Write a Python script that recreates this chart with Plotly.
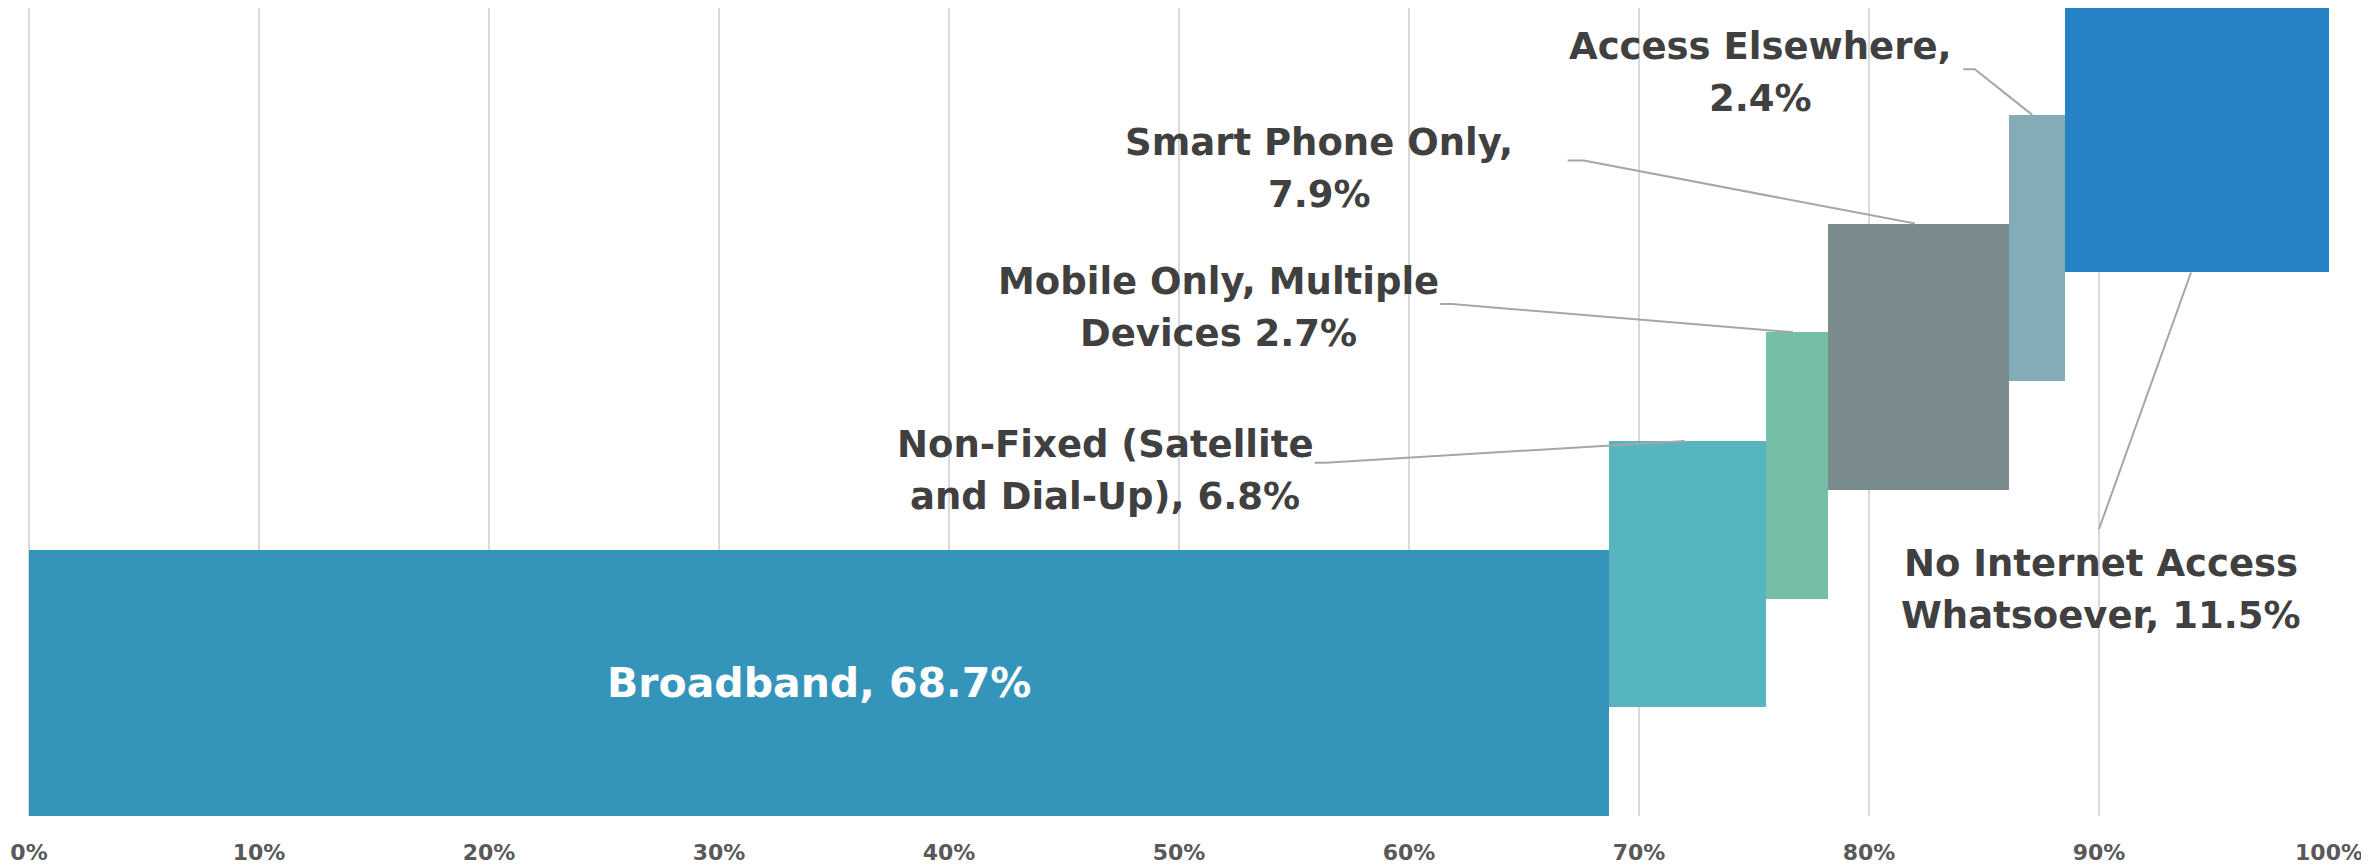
import plotly.graph_objects as go
import numpy as np

# ---- data ----
categories = ["Broadband", "Non-Fixed (Satellite and Dial-Up)", "Mobile Only, Multiple Devices",
              "Smart Phone Only", "Access Elsewhere", "No Internet Access Whatsoever"]
values = [68.7, 6.8, 2.7, 7.9, 2.4, 11.5]
levels = [0, 1, 2, 3, 4, 5]
label_lines = [
    ["Broadband, 68.7%"],
    ["Non-Fixed (Satellite", "and Dial-Up), 6.8%"],
    ["Mobile Only, Multiple", "Devices 2.7%"],
    ["Smart Phone Only,", "7.9%"],
    ["Access Elsewhere,", "2.4%"],
    ["No Internet Access", "Whatsoever, 11.5%"],
]
tick_vals = [0, 10, 20, 30, 40, 50, 60, 70, 80, 90, 100]
tick_text = ["0%", "10%", "20%", "30%", "40%", "50%", "60%", "70%", "80%", "90%", "100%"]

# ---- styling ----
colors = ["#3594BA", "#57B5C0", "#75BEA6", "#7A8B8D", "#84ACB6", "#2683C6"]
BAR_H = 2.45
starts = np.concatenate([[0], np.cumsum(values)[:-1]])
centers = [l + BAR_H / 2 for l in levels]

fig = go.Figure()
fig.add_trace(go.Bar(
    orientation="h", y=centers, x=values, base=starts, width=BAR_H,
    marker=dict(color=colors, line=dict(width=0)),
    hoverinfo="skip", showlegend=False,
))

# label placements (data coords of the label block centre)
label_pos = [(None, None), (46.8, 3.18), (51.7, 4.68), (56.1, 5.96), (75.3, 6.84), (90.1, 2.08)]
# leader line paths
leaders = [
    None,
    [(55.9, 3.25), (56.35, 3.25), (72.0, 3.45)],
    [(61.35, 4.71), (61.87, 4.71), (76.7, 4.45)],
    [(66.9, 6.03), (67.6, 6.03), (82.0, 5.45)],
    [(84.1, 6.87), (84.6, 6.87), (87.1, 6.45)],
    [(90.0, 2.64), (94.0, 5.0)],
]

FONT = "DejaVu Sans"
TXT = "#404040"
LINE_GAP = 52  # px between lines

annotations = []
for i, lines in enumerate(label_lines):
    if i == 0:
        annotations.append(dict(x=starts[0] + values[0] / 2, y=centers[0], text=lines[0],
                                showarrow=False, xref="x", yref="y",
                                font=dict(family=FONT, size=41, color="white", weight="bold")))
        continue
    x, y = label_pos[i]
    n = len(lines)
    for k, ln in enumerate(lines):
        shift = ((n - 1) / 2 - k) * LINE_GAP
        annotations.append(dict(x=x, y=y, text=ln, showarrow=False, xref="x", yref="y",
                                yshift=shift,
                                font=dict(family=FONT, size=37, color=TXT, weight="bold")))

shapes = []
for pts in leaders:
    if not pts:
        continue
    path = "M " + " L ".join(f"{px},{py}" for px, py in pts)
    shapes.append(dict(type="path", path=path, xref="x", yref="y",
                       line=dict(color="#A6A6A6", width=2)))

fig.update_layout(
    width=2369, height=865,
    margin=dict(l=21, r=48, t=0, b=57),
    plot_bgcolor="white", paper_bgcolor="white",
    bargap=0, barmode="overlay",
    annotations=annotations, shapes=shapes,
    xaxis=dict(range=[0, 100], tickvals=tick_vals, ticktext=tick_text,
               showgrid=True, gridcolor="#D9D9D9", gridwidth=2,
               zeroline=True, zerolinecolor="#D9D9D9", zerolinewidth=2,
               showline=False, ticks="", ticklabelstandoff=21,
               tickfont=dict(family=FONT, size=22, color="#595959", weight="bold"),
               fixedrange=True),
    yaxis=dict(range=[0, 7.433], visible=False, showgrid=False, zeroline=False, fixedrange=True),
)

fig.write_html("out.html")
